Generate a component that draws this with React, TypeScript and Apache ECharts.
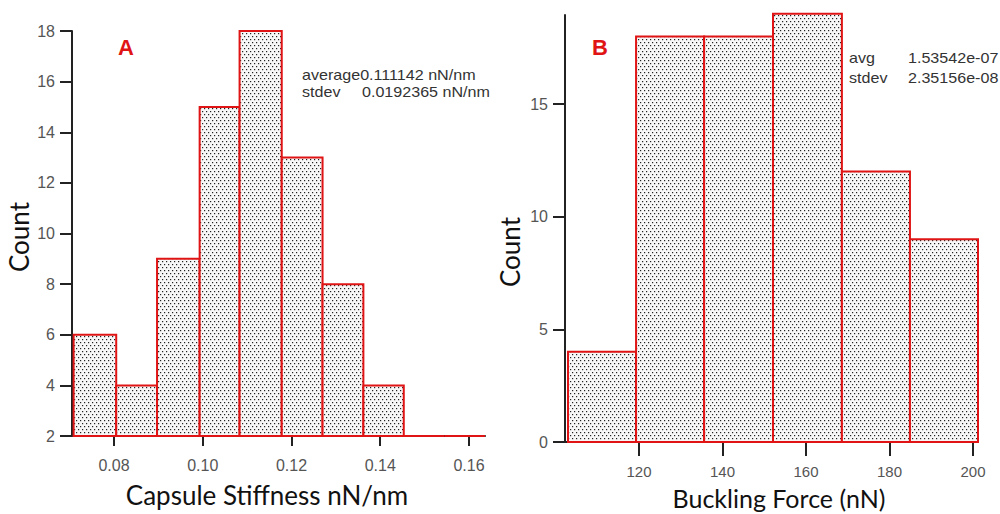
import React, { useEffect, useRef } from "react";
import * as echarts from "echarts";

// Panel A: capsule stiffness histogram
const stiffnessBinEdges = [0.0709, 0.0805, 0.0897, 0.0993, 0.1083, 0.1178, 0.127, 0.1362, 0.1453, 0.1545, 0.1636];
const stiffnessCounts = [6, 4, 9, 15, 18, 13, 8, 4, 0, 0];
const stiffnessTicks = [0.08, 0.1, 0.12, 0.14, 0.16];
const countTicksA = [2, 4, 6, 8, 10, 12, 14, 16, 18];

// Panel B: buckling force histogram
const forceBinEdges = [103.0, 119.3, 135.6, 152.1, 168.6, 184.9, 201.2];
const forceCounts = [4, 18, 18, 19, 12, 9];
const forceTicks = [120, 140, 160, 180, 200];
const countTicksB = [0, 5, 10, 15];

const statsA = ["average0.111142 nN/nm", "stdev", "0.0192365 nN/nm"];
const statsB = ["avg", "1.53542e-07", "stdev", "2.35156e-08"];

const RED = "#e01414";
const AXIS = "#222";
const TICKFONT = "Liberation Sans, Arial, sans-serif";
const TITLEFONT = "Lato, 'Open Sans', sans-serif";

const dotSvg =
  "data:image/svg+xml;charset=utf-8," +
  encodeURIComponent(
    '<svg xmlns="http://www.w3.org/2000/svg" width="4" height="6"><rect width="4" height="6" fill="#f7f7f7"/><rect x="0" y="0" width="1.2" height="1.2" fill="#222"/><rect x="2" y="3" width="1.2" height="1.2" fill="#222"/></svg>'
  );

function binData(edges: number[], counts: number[]) {
  return counts.map((c, i) => [edges[i], edges[i + 1], c]);
}

function makeRender(base: number) {
  return (params: any, api: any) => {
    const x0 = api.value(0);
    const x1 = api.value(1);
    const v = Math.max(api.value(2), base);
    const p0 = api.coord([x0, v]);
    const p1 = api.coord([x1, base]);
    return {
      type: "rect",
      shape: { x: p0[0], y: p0[1], width: p1[0] - p0[0], height: p1[1] - p0[1] },
      style: {
        fill: { image: dotSvg, repeat: "repeat" },
        stroke: RED,
        lineWidth: 2,
      },
    };
  };
}

export default function App() {
  const ref = useRef<HTMLDivElement>(null);
  useEffect(() => {
    const chart = echarts.init(ref.current!, undefined, { renderer: "svg" });
    const axisLine = { show: true, lineStyle: { color: AXIS, width: 2 } };
    const label = (margin: number, customValues: number[], fontSize: number, fmt?: (v: number) => string) => ({
      margin,
      color: "#555",
      fontSize,
      fontFamily: TICKFONT,
      customValues,
      formatter: fmt,
    });
    const statStyle = (text: string) => ({ text, fill: "#333", font: "14px Liberation Sans, Arial", verticalAlign: "middle" });
    chart.setOption({
      animation: false,
      grid: [
        { left: 72, top: 31, width: 413, height: 405 },
        { left: 565, top: 15, width: 413, height: 427 },
      ],
      xAxis: [
        {
          type: "value",
          gridIndex: 0,
          min: 0.070535,
          max: 0.163606,
          axisLine,
          splitLine: { show: false },
          axisTick: { show: true, length: 10, lineStyle: { color: AXIS, width: 2 }, customValues: stiffnessTicks },
          axisLabel: label(21, stiffnessTicks, 16, (v: number) => v.toFixed(2)),
        },
        {
          type: "value",
          gridIndex: 1,
          min: 102.28,
          max: 201.2,
          axisLine,
          splitLine: { show: false },
          axisTick: { show: true, length: 14, lineStyle: { color: AXIS, width: 2 }, customValues: forceTicks },
          axisLabel: label(22, forceTicks, 15),
        },
      ],
      yAxis: [
        {
          type: "value",
          gridIndex: 0,
          min: 2,
          max: 18,
          axisLine,
          splitLine: { show: false },
          axisTick: { show: true, length: 12, lineStyle: { color: AXIS, width: 2 }, customValues: countTicksA },
          axisLabel: label(17, countTicksA, 16),
        },
        {
          type: "value",
          gridIndex: 1,
          min: 0,
          max: 18.95,
          axisLine,
          splitLine: { show: false },
          axisTick: { show: true, length: 12, lineStyle: { color: AXIS, width: 2 }, customValues: countTicksB },
          axisLabel: label(17, countTicksB, 16),
        },
      ],
      series: [
        {
          type: "custom",
          xAxisIndex: 0,
          yAxisIndex: 0,
          renderItem: makeRender(2),
          data: binData(stiffnessBinEdges, stiffnessCounts),
          encode: { x: [0, 1], y: 2 },
          clip: false,
          z: 1,
        },
        {
          type: "custom",
          xAxisIndex: 1,
          yAxisIndex: 1,
          renderItem: makeRender(0),
          data: binData(forceBinEdges, forceCounts),
          encode: { x: [0, 1], y: 2 },
          clip: false,
          z: 1,
        },
      ],
      graphic: [
        { type: "text", x: 126, y: 47, style: { text: "A", fill: RED, font: "bold 22px Liberation Sans, Arial", align: "center", verticalAlign: "middle" } },
        { type: "text", x: 600, y: 47, style: { text: "B", fill: RED, font: "bold 22px Liberation Sans, Arial", align: "center", verticalAlign: "middle" } },
        { type: "text", x: 302, y: 75, scaleX: 1.15, style: statStyle(statsA[0]) },
        { type: "text", x: 302, y: 92, scaleX: 1.15, style: statStyle(statsA[1]) },
        { type: "text", x: 362, y: 92, scaleX: 1.15, style: statStyle(statsA[2]) },
        { type: "text", x: 849, y: 58, scaleX: 1.15, style: statStyle(statsB[0]) },
        { type: "text", x: 908, y: 58, scaleX: 1.15, style: statStyle(statsB[1]) },
        { type: "text", x: 849, y: 78, scaleX: 1.15, style: statStyle(statsB[2]) },
        { type: "text", x: 908, y: 78, scaleX: 1.15, style: statStyle(statsB[3]) },
        { type: "text", x: 267, y: 495, style: { text: "Capsule Stiffness nN/nm", fill: "#111", font: `26px ${TITLEFONT}`, align: "center", verticalAlign: "middle" } },
        { type: "text", x: 779, y: 498, style: { text: "Buckling Force (nN)", fill: "#111", font: `25px ${TITLEFONT}`, align: "center", verticalAlign: "middle" } },
        { type: "text", x: 19, y: 237, rotation: Math.PI / 2, style: { text: "Count", fill: "#111", font: `26px ${TITLEFONT}`, align: "center", verticalAlign: "middle" } },
        { type: "text", x: 510, y: 252, rotation: Math.PI / 2, style: { text: "Count", fill: "#111", font: `26px ${TITLEFONT}`, align: "center", verticalAlign: "middle" } },
      ],
    });
    return () => chart.dispose();
  }, []);
  return <div ref={ref} style={{ position: "absolute", left: 0, top: 0, width: 1000, height: 514, background: "#fff" }} />;
}
